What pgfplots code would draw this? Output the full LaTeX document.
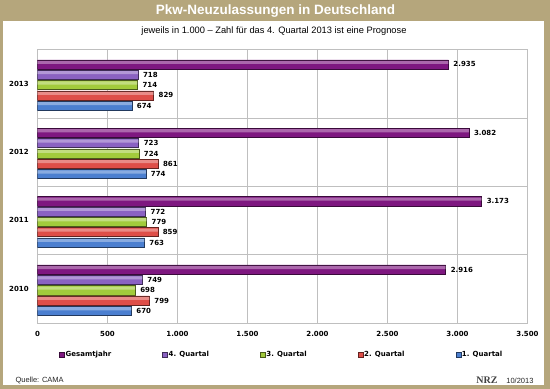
\documentclass[border=0pt]{standalone}
\usepackage{pgfplots}
\pgfplotsset{compat=1.18}
\usepackage{fontspec}
\setmainfont{Liberation Sans}
\newfontfamily\dvs{DejaVu Sans}
\newfontfamily\serifnrz{Liberation Serif}
\definecolor{frametan}{HTML}{B5A67C}
\definecolor{cG}{HTML}{7E1780}
\definecolor{cQf}{HTML}{8A62C2}
\definecolor{cQd}{HTML}{A2CB3C}
\definecolor{cQb}{HTML}{DE4E48}
\definecolor{cQa}{HTML}{4B7FD0}
\pgfplotstableread{
y G Q4 Q3 Q2 Q1
0 2916 749 698 799 670
1 3173 772 779 859 763
2 3082 723 724 861 774
3 2935 718 714 829 674
}\datatable
\pgfplotsset{
  mainbar/.style={fill=#1, draw=#1!45!black, line width=0.5pt,
    nodes near coords,
    nodes near coords style={font=\dvs\bfseries\fontsize{7}{8}\selectfont, anchor=west, xshift=1.5pt, text=black}},
  hibar/.style={forget plot, draw=none, fill=white, fill opacity=0.35, bar width=0.045},
}
\begin{document}
\begin{tikzpicture}[x=1pt,y=1pt]
\fill[frametan] (0,0) rectangle (550,389);
\fill[white] (3,4) rectangle (544,368);
\node[white, font=\bfseries\fontsize{13.5}{16}\selectfont] at (275.5,377.5) {Pkw-Neuzulassungen in Deutschland};
\node[font=\fontsize{9.3}{11}\selectfont] at (274,358) {jeweils in 1.000 – Zahl für das 4. Quartal 2013 ist eine Prognose};
\begin{axis}[
  at={(37.5pt,66pt)}, anchor=south west, scale only axis,
  width=490pt, height=273.5pt,
  xbar, xmin=0, xmax=3500, ymin=-0.5, ymax=3.5,
  xtick={0,500,...,3500},
  ytick={0,1,2,3}, yticklabels={2010,2011,2012,2013},
  extra y ticks={0.5,1.5,2.5}, extra y tick labels={},
  extra y tick style={ymajorgrids=true},
  xmajorgrids,
  major grid style={draw=black!25, line width=0.6pt},
  axis line style={draw=black!25, line width=0.6pt},
  tick style={draw=none},
  bar width=0.135,
  /pgf/number format/1000 sep={.},
  /pgf/number format/assume math mode=true,
  tick label style={font=\dvs\bfseries\fontsize{7}{8}\selectfont},
  xticklabel style={yshift=-5pt},
  yticklabel style={xshift=-1pt},
  legend columns=-1,
  legend image code/.code={\draw[#1, line width=0.4pt] (0pt,-2.5pt) rectangle (5pt,2.5pt);},
  legend style={draw=none, fill=none, inner sep=0pt, anchor=west, at={(0.044,-0.117)},
    font=\dvs\bfseries\fontsize{7}{8}\selectfont,
    /tikz/every even column/.append style={column sep=50pt},
    nodes={inner sep=1pt}},
]
\addplot[mainbar=cG, bar shift=0.282] table[x=G,y=y] {\datatable};
\addplot[mainbar=cQf, bar shift=0.131] table[x=Q4,y=y] {\datatable};
\addplot[mainbar=cQd, bar shift=-0.020] table[x=Q3,y=y] {\datatable};
\addplot[mainbar=cQb, bar shift=-0.171] table[x=Q2,y=y] {\datatable};
\addplot[mainbar=cQa, bar shift=-0.322] table[x=Q1,y=y] {\datatable};
\addplot[hibar, bar shift=0.312] table[x=G,y=y] {\datatable};
\addplot[hibar, bar shift=0.161] table[x=Q4,y=y] {\datatable};
\addplot[hibar, bar shift=0.010] table[x=Q3,y=y] {\datatable};
\addplot[hibar, bar shift=-0.141] table[x=Q2,y=y] {\datatable};
\addplot[hibar, bar shift=-0.292] table[x=Q1,y=y] {\datatable};
\legend{Gesamtjahr,4. Quartal,3. Quartal,2. Quartal,1. Quartal}
\end{axis}
\node[anchor=west, font=\fontsize{7.5}{9}\selectfont, text=black!85] at (12,8.5) {Quelle: CAMA};
\node[anchor=east, font=\fontsize{7.5}{9}\selectfont, text=black!85] at (537,8.5) {10/2013};
\node[anchor=east, font=\serifnrz\bfseries\fontsize{10}{11}\selectfont, text=black!75] at (501,8.5) {NRZ};
\end{tikzpicture}
\end{document}
